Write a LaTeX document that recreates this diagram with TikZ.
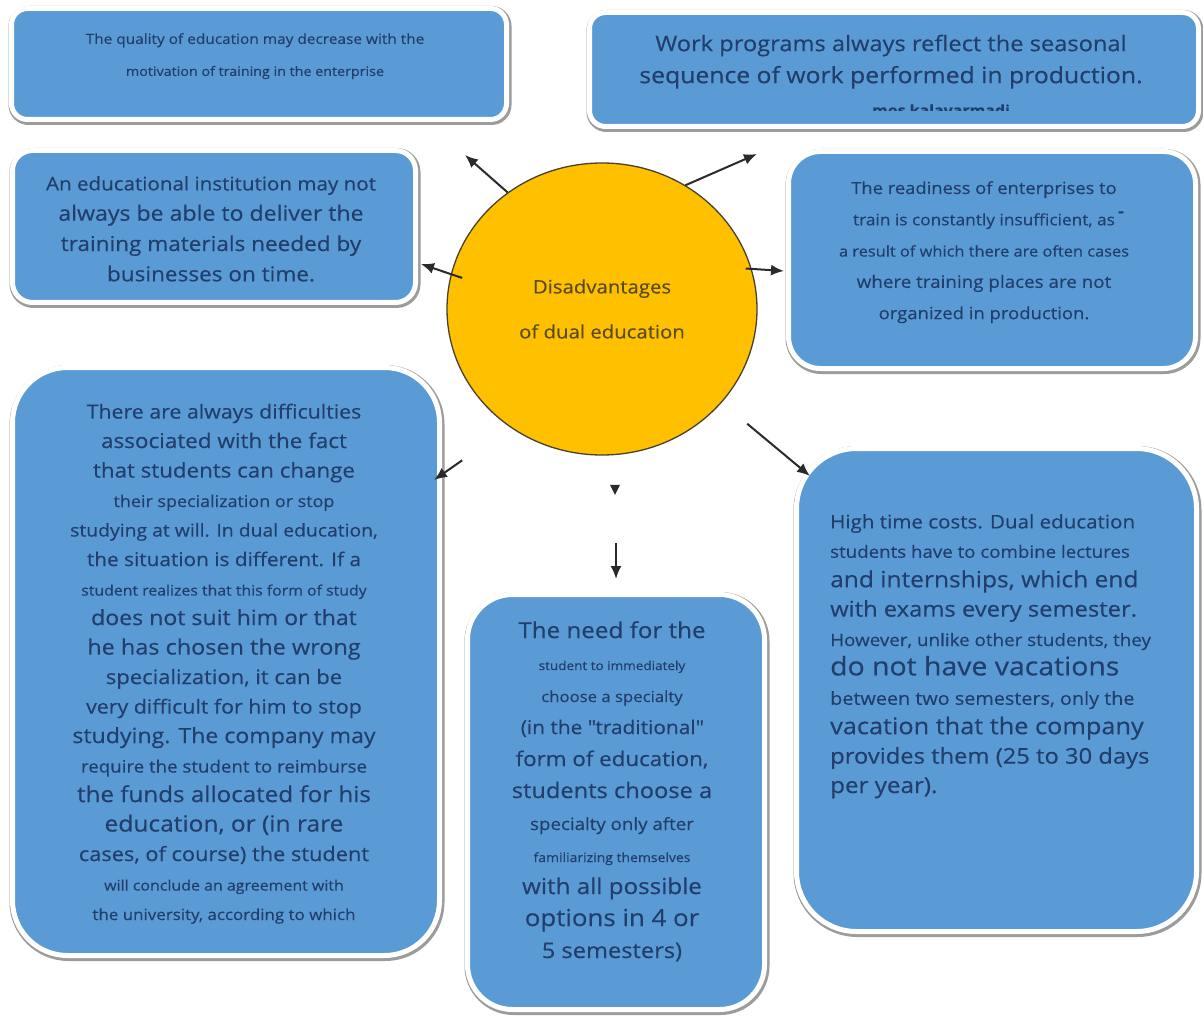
\documentclass[tikz,border=0pt]{standalone}
\usepackage{fontspec}
\setmainfont{Open Sans}[FakeStretch=1.1, FakeBold=0.4]
\usetikzlibrary{arrows.meta, shapes.geometric}

\definecolor{cardblue}{HTML}{5B9BD5}
\definecolor{inkblue}{HTML}{223E6C}
\definecolor{coregold}{HTML}{FFC000}
\definecolor{coreink}{HTML}{5A4A1E}
\definecolor{coreline}{HTML}{4A4030}
\definecolor{shadowgray}{HTML}{9C9C9C}
\definecolor{arrowgray}{HTML}{2A2A2A}

% line size, keeping the node's line spacing
\newcommand{\sz}[1]{\fontsize{#1}{\the\baselineskip}\selectfont}

\begin{document}
\begin{tikzpicture}[x=1pt, y=-1pt, font={\fontsize{16}{30}\selectfont},
card/.style={rounded corners=#1, fill=cardblue, draw=white, line width=5pt,
  preaction={draw=shadowgray, line width=8pt, transform canvas={xshift=1pt, yshift=-1.5pt}}},
words/.style={inner sep=0pt, text=inkblue, align=center, anchor=north},
arr/.style={color=arrowgray, line width=2pt, -{Latex[length=13pt, width=11pt]}},
stubhead/.style={isosceles triangle, isosceles triangle stretches, shape border rotate=-90,
  fill=arrowgray, inner sep=0pt, minimum width=10, minimum height=10},
]
\useasboundingbox[fill=white] (0,0) rectangle (1203,1019);

% cards
\node[card=16, minimum width=495, minimum height=111] (qual) at (259,64) {};
\node[card=16, minimum width=609, minimum height=114] (work) at (894,69.5) {};
\node[card=20, minimum width=403, minimum height=152] (inst) at (214,226.5) {};
\node[card=32, minimum width=407, minimum height=217] (ready) at (992,260) {};
\node[card=55, minimum width=427, minimum height=588] (change) at (226,661.5) {};
\node[card=45, minimum width=297, minimum height=415] (need) at (616,802) {};
\node[card=60, minimum width=400, minimum height=483] (cost) at (996.5,690) {};

% core
\node[ellipse, draw=coreline, line width=1.3pt, fill=coregold, inner sep=0pt,
  minimum width=310, minimum height=292, align=center, text=coreink,
  font={\fontsize{18.5}{45}\selectfont}] (core) at (602,309)
  {Disadvantages\\of dual education};

% texts
\node[words, font={\fontsize{14}{32}\selectfont}] (qualtext) at (255,33)
  {\sz{14}The quality of education may decrease with the\\
   \sz{13}motivation of training in the enterprise};

\node[words, font={\fontsize{21.5}{32}\selectfont}] (worktext) at (891,34.5)
  {\sz{21.5}Work programs always reflect the seasonal\\
   \sz{22.5}sequence of work performed in production.};
\begin{scope}
\clip (860,96) rectangle (1020,110.5);
\node[words, anchor=center, font={\bfseries\fontsize{14.5}{18}\selectfont}] (workscrap) at (941,110)
  {mos kalavarmadi};
\end{scope}

\node[words, font={\fontsize{18.7}{30.3}\selectfont}] (insttext) at (211,176)
  {\sz{18.7}An educational institution may not\\
   \sz{21}always be able to deliver the\\
   \sz{20.5}training materials needed by\\
   \sz{20.5}businesses on time.};

\node[words, font={\fontsize{16.7}{31.3}\selectfont}] (readytext) at (984,181)
  {\sz{16.7}The readiness of enterprises to\\
   \sz{15.7}train is constantly insufficient, as\\
   \sz{14.9}a result of which there are often cases\\
   \sz{17.1}where training places are not\\
   \sz{16.8}organized in production.};
\node[words, anchor=center, font={\bfseries\fontsize{16}{20}\selectfont}] (readydash) at (1121,214) {-};

\node[words, font={\fontsize{19.4}{29.5}\selectfont}] (changetext) at (224,403.5)
  {\sz{19.4}There are always difficulties\\
   \sz{20.4}associated with the fact\\
   \sz{20.3}that students can change\\
   \sz{16.3}their specialization or stop\\
   \sz{17.6}studying at will. In dual education,\\
   \sz{18.9}the situation is different. If a\\
   \sz{14.4}student realizes that this form of study\\
   \sz{21}does not suit him or that\\
   \sz{21.3}he has chosen the wrong\\
   \sz{20}specialization, it can be\\
   \sz{19.4}very difficult for him to stop\\
   \sz{21}studying. The company may\\
   \sz{17}require the student to reimburse\\
   \sz{22}the funds allocated for his\\
   \sz{22.3}education, or (in rare\\
   \sz{19.8}cases, of course) the student\\
   \sz{14.5}will conclude an agreement with\\
   \sz{15.4}the university, according to which};

\node[words, font={\fontsize{22}{32}\selectfont}] (needtext) at (612,621)
  {\sz{22}The need for the\\
   \sz{12.3}student to immediately\\
   \sz{15.2}choose a specialty\\
   \sz{19}(in the \textquotedbl traditional\textquotedbl\\
   \sz{20.3}form of education,\\
   \sz{21.5}students choose a\\
   \sz{17}specialty only after\\
   \sz{12.7}familiarizing themselves\\
   \sz{22}with all possible\\
   \sz{23.5}options in 4 or\\
   \sz{21.5}5 semesters)};

\node[words, align=left, anchor=north west, font={\fontsize{18.7}{29.4}\selectfont}] (costtext) at (830,514)
  {\sz{18.7}High time costs. Dual education\\
   \sz{17}students have to combine lectures\\
   \sz{22.3}and internships, which end\\
   \sz{21.6}with exams every semester.\\
   \sz{17.1}However, unlike other students, they\\
   \sz{25.8}do not have vacations\\
   \sz{18}between two semesters, only the\\
   \sz{23}vacation that the company\\
   \sz{21.6}provides them (25 to 30 days\\
   \sz{22}per year).};

% arrow ends
\coordinate (qualtip) at (465,155);
\coordinate (worktip) at (757,154);
\coordinate (insttip) at (421,264);
\coordinate (readytip) at (784,271);
\coordinate (changetip) at (434,480);
\coordinate (costtip) at (810,476);
\coordinate (needtail) at (616,543);
\coordinate (needtip) at (616,579);

% arrows out of the core
\begin{scope}[arr]
\draw (core.129) -- (qualtip);
\draw (core.56) -- (worktip);
\draw[shorten <=-12pt] (core.167) -- (insttip);
\draw[shorten <=-6pt] (core.15) -- (readytip);
\draw[shorten <=58pt] (core.232) -- (changetip);
\draw[shorten <=33pt] (core.-38) -- (costtip);
\draw (needtail) -- (needtip);
\end{scope}
\node[stubhead] (stub) at (615,488) {};

\end{tikzpicture}
\end{document}
